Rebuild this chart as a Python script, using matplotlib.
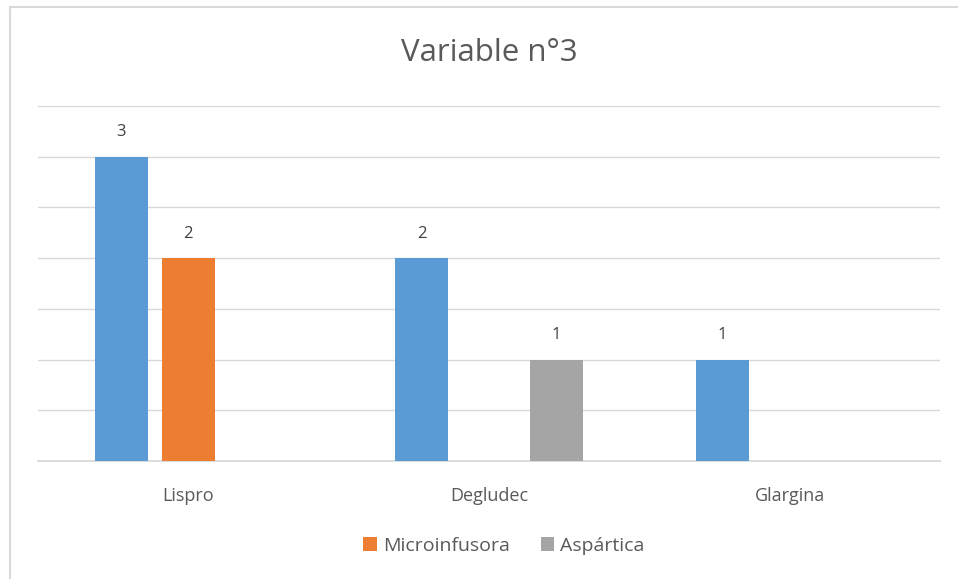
import matplotlib.pyplot as plt
from matplotlib.lines import Line2D
import numpy as np

plt.rcParams['font.family'] = ['Open Sans', 'DejaVu Sans']

# data
categories = ["Lispro", "Degludec", "Glargina"]
serie1 = [3, 2, 1]
microinfusora = [2, None, None]
aspartica = [None, 1, None]

blue = "#5B9BD5"
orange = "#ED7D31"
gray = "#A5A5A5"
txt = "#595959"

fig = plt.figure(figsize=(9.58, 5.79), dpi=100)
ax = fig.add_axes([38/958, 1-461/579, 902/958, 355/579])

x = np.arange(len(categories))
w = 0.176
step = 0.223

def draw(vals, off, color, label):
    xs = [xi + off for xi, v in zip(x, vals) if v is not None]
    vs = [v for v in vals if v is not None]
    bars = ax.bar(xs, vs, width=w, color=color, label=label, zorder=3)
    for b, v in zip(bars, vs):
        ax.text(b.get_x() + b.get_width()/2, v + 0.16, str(v), ha="center",
                va="bottom", fontsize=12, color="#404040")
    return bars

draw(serie1, -step, blue, "_nolegend_")
draw(microinfusora, 0, orange, "Microinfusora")
draw(aspartica, step, gray, "Aspártica")

ax.set_xlim(-0.5, 2.5)
ax.set_ylim(0, 3.5)
ax.set_yticks(np.arange(0, 3.51, 0.5))
ax.yaxis.grid(True, color="#D9D9D9", linewidth=1, zorder=0)
ax.tick_params(axis="y", left=False, labelleft=False)
ax.tick_params(axis="x", bottom=False, labelsize=13, labelcolor=txt, pad=15)
ax.set_xticks(x)
ax.set_xticklabels(categories)
for s in ["top", "right", "left"]:
    ax.spines[s].set_visible(False)
ax.spines["bottom"].set_color("#D9D9D9")
ax.spines["bottom"].set_linewidth(1.3)

fig.text(489/958, 1-53/579, "Variable n°3", ha="center", va="center",
         fontsize=22.5, color=txt)

leg = fig.legend(loc="center", bbox_to_anchor=(504/958, 1-546/579), ncol=2,
                 frameon=False, fontsize=14, handlelength=0.7, handleheight=0.7,
                 handletextpad=0.3, columnspacing=1.6)
for t in leg.get_texts():
    t.set_color(txt)

# chart border
fig.add_artist(Line2D([10/958, 1], [1-7/579, 1-7/579], color="#D9D9D9", lw=1.5))
fig.add_artist(Line2D([10/958, 10/958], [0, 1-7/579], color="#D9D9D9", lw=1.5))

fig.savefig("out.png", dpi=100)
